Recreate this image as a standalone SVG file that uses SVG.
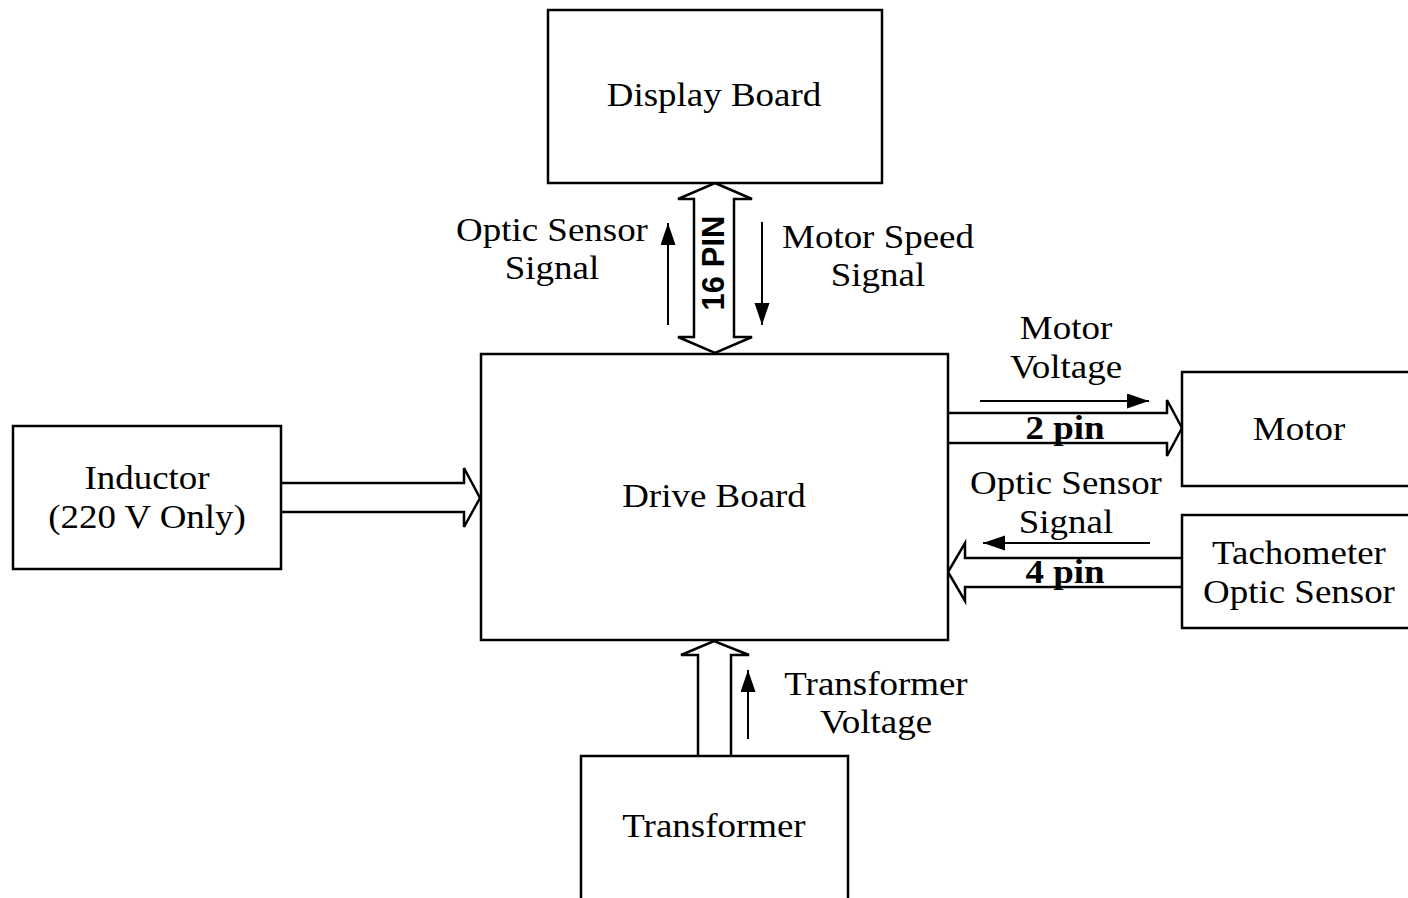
<svg xmlns="http://www.w3.org/2000/svg" width="1408" height="898" viewBox="0 0 1408 898">
<style>
.box{fill:#fff;stroke:#000;stroke-width:2.5}
.fat{fill:#fff;stroke:#000;stroke-width:2.5;stroke-linejoin:miter}
.thin{fill:none;stroke:#000;stroke-width:2}
.t{font-family:"Liberation Serif","Times New Roman",serif;font-size:33px;fill:#000;text-anchor:middle}
.b{font-family:"Liberation Serif","Times New Roman",serif;font-size:33px;font-weight:bold;fill:#000;text-anchor:middle}
.pin{font-family:"Liberation Sans",Arial,sans-serif;font-size:31px;font-weight:bold;fill:#000;text-anchor:middle}
</style>
<defs>
<marker id="ah" markerUnits="userSpaceOnUse" markerWidth="24" markerHeight="16" refX="22" refY="7.5" orient="auto">
<path d="M0,0 L22,7.5 L0,15 Z" fill="#000"/>
</marker>
</defs>
<rect width="1408" height="898" fill="#fff"/>

<g id="connectors">
<path class="fat" d="M715,183 L752,199 L734,199 L734,337 L752,337 L715,353 L678,337 L694,337 L694,199 L678,199 Z"/>
<path class="fat" d="M948,413 L1167,413 L1167,400 L1182,428 L1167,456 L1167,443 L948,443"/>
<path class="fat" d="M1182,558 L965,558 L965,543 L948,572 L965,601 L965,587 L1182,587"/>
<path class="fat" d="M698,756 L698,655 L681,655 L714,641 L749,655 L731,655 L731,756"/>
<path class="fat" d="M281,483 L464,483 L464,468 L480,498 L464,527 L464,512 L281,512"/>
<line class="thin" x1="668" y1="325" x2="668" y2="223" marker-end="url(#ah)"/>
<line class="thin" x1="762" y1="222" x2="762" y2="325" marker-end="url(#ah)"/>
<line class="thin" x1="980" y1="401" x2="1149" y2="401" marker-end="url(#ah)"/>
<line class="thin" x1="1150" y1="543" x2="983" y2="543" marker-end="url(#ah)"/>
<line class="thin" x1="748" y1="739" x2="748" y2="670" marker-end="url(#ah)"/>
<text class="pin" transform="translate(724,263) rotate(-90)">16 PIN</text>
<text class="b" transform="translate(1065,439) scale(1.12,1)">2 pin</text>
<text class="b" transform="translate(1065,583) scale(1.12,1)">4 pin</text>
<text class="t" transform="translate(552,241) scale(1.12,1)">Optic Sensor</text>
<text class="t" transform="translate(552,279) scale(1.12,1)">Signal</text>
<text class="t" transform="translate(878,248) scale(1.12,1)">Motor Speed</text>
<text class="t" transform="translate(878,286) scale(1.12,1)">Signal</text>
<text class="t" transform="translate(1066,339) scale(1.12,1)">Motor</text>
<text class="t" transform="translate(1066,378) scale(1.12,1)">Voltage</text>
<text class="t" transform="translate(1066,494) scale(1.12,1)">Optic Sensor</text>
<text class="t" transform="translate(1066,533) scale(1.12,1)">Signal</text>
<text class="t" transform="translate(876,695) scale(1.12,1)">Transformer</text>
<text class="t" transform="translate(876,733) scale(1.12,1)">Voltage</text>
</g>

<g id="display-board">
<rect class="box" x="548" y="10" width="334" height="173"/>
<text class="t" transform="translate(714,106) scale(1.12,1)">Display Board</text>
</g>
<g id="drive-board">
<rect class="box" x="481" y="354" width="467" height="286"/>
<text class="t" transform="translate(714,507) scale(1.12,1)">Drive Board</text>
</g>
<g id="inductor">
<rect class="box" x="13" y="426" width="268" height="143"/>
<text class="t" transform="translate(147,489) scale(1.12,1)">Inductor</text>
<text class="t" transform="translate(147,528) scale(1.12,1)">(220 V Only)</text>
</g>
<g id="motor">
<rect class="box" x="1182" y="372" width="240" height="114"/>
<text class="t" transform="translate(1299,440) scale(1.12,1)">Motor</text>
</g>
<g id="tachometer">
<rect class="box" x="1182" y="515" width="240" height="113"/>
<text class="t" transform="translate(1299,564) scale(1.12,1)">Tachometer</text>
<text class="t" transform="translate(1299,603) scale(1.12,1)">Optic Sensor</text>
</g>
<g id="transformer">
<rect class="box" x="581" y="756" width="267" height="160"/>
<text class="t" transform="translate(714,837) scale(1.12,1)">Transformer</text>
</g>
</svg>
